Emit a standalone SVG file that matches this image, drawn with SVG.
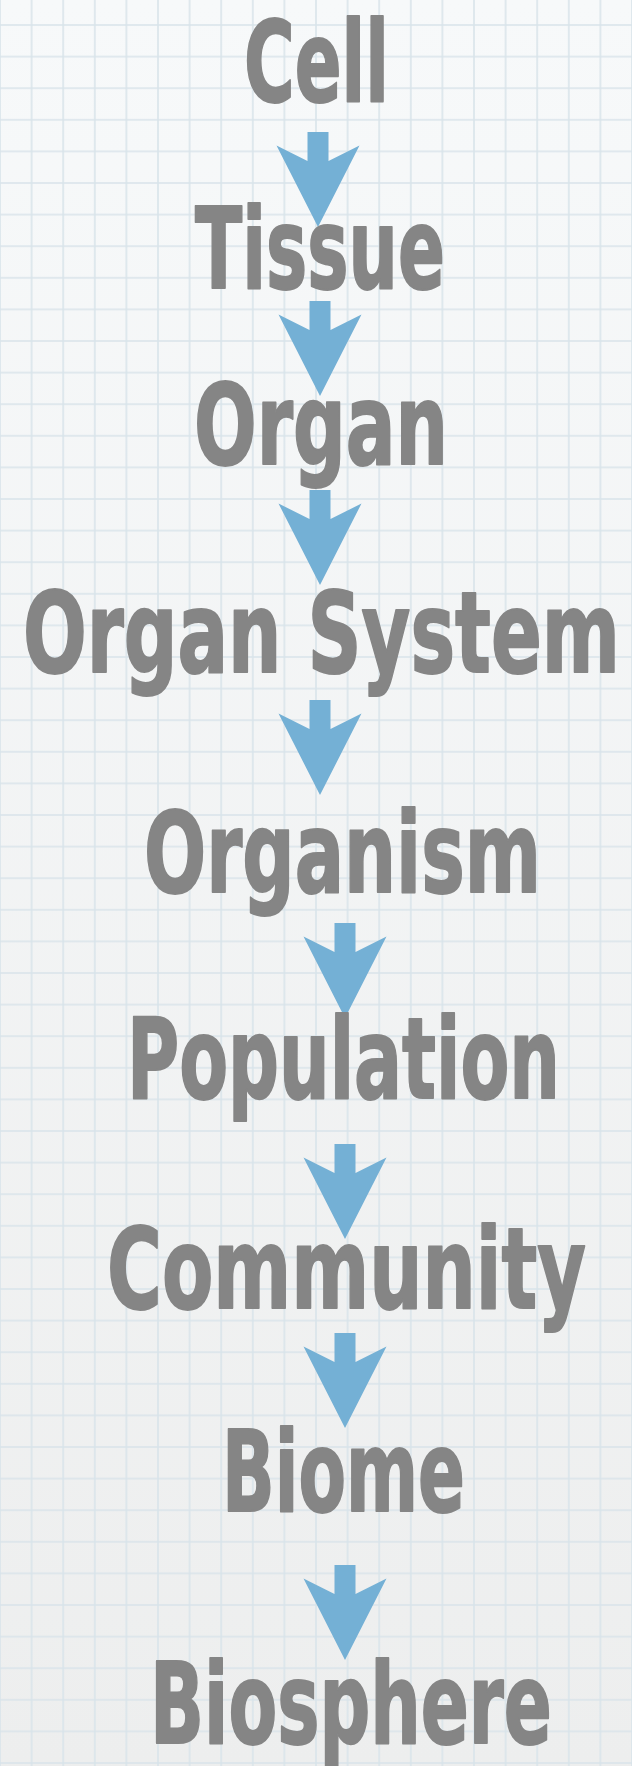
<svg xmlns="http://www.w3.org/2000/svg" width="632" height="1766" viewBox="0 0 632 1766">
  <defs>
    <linearGradient id="bg" x1="0" y1="0" x2="0" y2="1">
      <stop offset="0" stop-color="#F7F9FA"/>
      <stop offset="1" stop-color="#EDEEEE"/>
    </linearGradient>
    <pattern id="grid" patternUnits="userSpaceOnUse" x="-15.8" y="9.2" width="31.6" height="31.6">
      <path d="M15.8 0V31.6M0 15.8H31.6" stroke="#D9E4EA" stroke-width="1.6" fill="none"/>
    </pattern>
    <polygon id="arrow" points="-10.5,0 10.5,0 10.5,29 41.5,13.5 0,95 -41.5,13.5 -10.5,29"/>
  </defs>
  <style>
    .lbl { font-family: "DejaVu Sans", "Liberation Sans", sans-serif; font-weight: bold; font-size: 113px; fill: #858585; stroke: #858585; stroke-width: 2; stroke-linejoin: round; }
    .arr { fill: #74B0D5; }
  </style>
  <rect width="632" height="1766" fill="url(#bg)"/>
  <rect width="632" height="1766" fill="url(#grid)"/>

  <g id="connectors" class="arr">
    <use href="#arrow" x="318" y="132"/>
    <use href="#arrow" x="320" y="301"/>
    <use href="#arrow" x="320" y="490"/>
    <use href="#arrow" x="320" y="700"/>
    <use href="#arrow" x="345" y="923"/>
    <use href="#arrow" x="345" y="1144"/>
    <use href="#arrow" x="345" y="1333"/>
    <use href="#arrow" x="345" y="1565"/>
  </g>

  <g id="node-cell"><text class="lbl" x="244" y="101" textLength="145" lengthAdjust="spacingAndGlyphs">Cell</text></g>
  <g id="node-tissue"><text class="lbl" x="195" y="288" textLength="250" lengthAdjust="spacingAndGlyphs">Tissue</text></g>
  <g id="node-organ"><text class="lbl" x="194" y="464" textLength="254" lengthAdjust="spacingAndGlyphs">Organ</text></g>
  <g id="node-organ-system"><text class="lbl" x="23" y="672" textLength="597" lengthAdjust="spacingAndGlyphs">Organ System</text></g>
  <g id="node-organism"><text class="lbl" x="144" y="892" textLength="397" lengthAdjust="spacingAndGlyphs">Organism</text></g>
  <g id="node-population"><text class="lbl" x="127" y="1098" textLength="433" lengthAdjust="spacingAndGlyphs">Population</text></g>
  <g id="node-community"><text class="lbl" x="107" y="1308" textLength="479" lengthAdjust="spacingAndGlyphs">Community</text></g>
  <g id="node-biome"><text class="lbl" x="222" y="1511" textLength="243" lengthAdjust="spacingAndGlyphs">Biome</text></g>
  <g id="node-biosphere"><text class="lbl" x="150" y="1743" textLength="402" lengthAdjust="spacingAndGlyphs">Biosphere</text></g>
</svg>
